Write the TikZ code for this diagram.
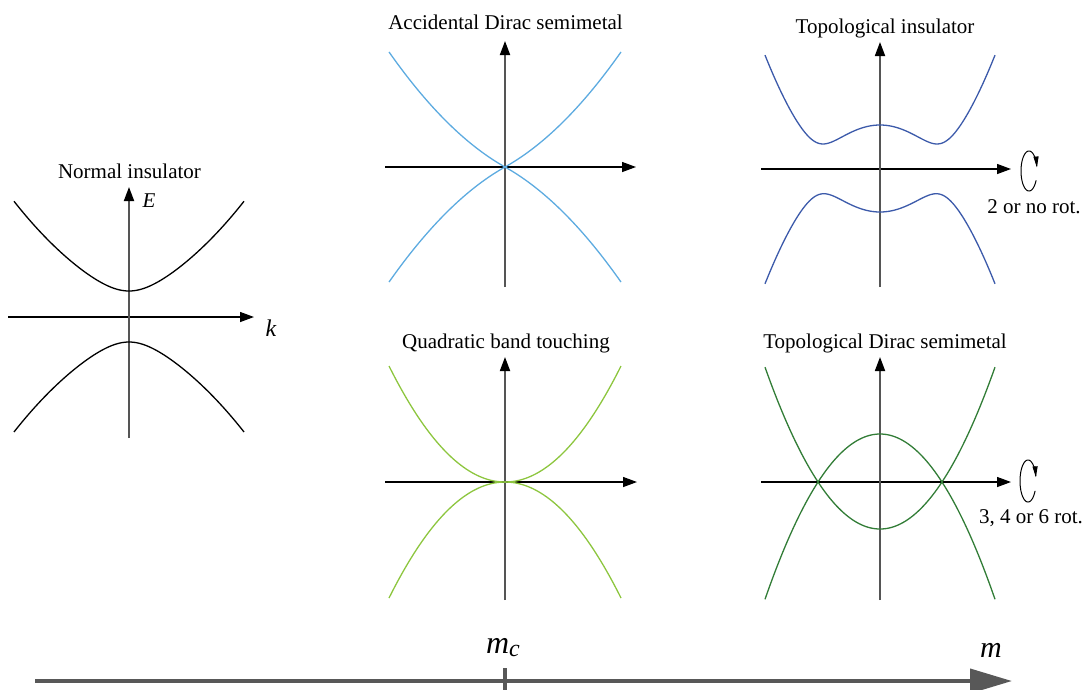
\documentclass[tikz,border=0pt]{standalone}
\usepackage{fontspec}
\setmainfont{Liberation Serif}
\usetikzlibrary{arrows.meta}
\definecolor{adblue}{RGB}{93,171,224}
\definecolor{tiblue}{RGB}{60,90,170}
\definecolor{qgreen}{RGB}{141,198,63}
\definecolor{tdgreen}{RGB}{50,125,55}
\definecolor{axgray}{RGB}{85,85,85}
\definecolor{bigaxis}{RGB}{88,88,88}
\begin{document}
\begin{tikzpicture}[x=1pt,y=-1pt,
  ttl/.style={font=\fontsize{21}{25}\selectfont, anchor=base, inner sep=0pt},
  lbl/.style={font=\fontsize{21}{25}\selectfont\itshape, anchor=base, inner sep=0pt},
  haxis/.style={line width=1.3pt, black, -{Triangle[length=14pt,width=10pt]}},
  vaxis/.style={line width=1.8pt, axgray, -{Triangle[length=14pt,width=10pt,color=black,fill=black]}},
  band/.style={line width=1.3pt},
  rotloop/.style={line width=1pt, black, -{Triangle[length=11pt,width=5pt]}}]
\useasboundingbox (0,0) rectangle (1083,689);

% ---------- Normal insulator ----------
\node[ttl] (tNI) at (129.5,178) {Normal insulator};
\coordinate (niL) at (8,317);   \coordinate (niR) at (254,317);
\coordinate (niB) at (129,438); \coordinate (niT) at (129,187);
\draw[haxis] (niL) -- (niR);
\draw[vaxis] (niB) -- (niT);
\node[lbl] (lE) at (149,207) {E};
\node[lbl, font=\fontsize{24}{28}\selectfont\itshape] (lk) at (271,336) {k};
\draw[band, black] plot[domain=-115:115, samples=101, smooth]
  ({129+\x},{317-sqrt((26+0.0049*\x*\x)^2+0.39*\x*\x)});
\draw[band, black] plot[domain=-115:115, samples=101, smooth]
  ({129+\x},{317+sqrt((25+0.0049*\x*\x)^2+0.39*\x*\x)});

% ---------- Accidental Dirac semimetal ----------
\node[ttl] (tAD) at (505.5,29) {Accidental Dirac semimetal};
\coordinate (adL) at (385,167); \coordinate (adR) at (636,167);
\coordinate (adB) at (505,287); \coordinate (adT) at (505,41);
\draw[haxis] (adL) -- (adR);
\draw[vaxis] (adB) -- (adT);
\draw[band, adblue] plot[domain=-116:116, samples=101, smooth]
  ({505+\x},{167-(0.56*abs(\x)+0.00372*\x*\x)});
\draw[band, adblue] plot[domain=-116:116, samples=101, smooth]
  ({505+\x},{167+(0.56*abs(\x)+0.00372*\x*\x)});

% ---------- Topological insulator ----------
\node[ttl] (tTI) at (885,33) {Topological insulator};
\coordinate (tiL) at (761,169); \coordinate (tiR) at (1011,169);
\coordinate (tiB) at (880,287); \coordinate (tiT) at (880,42);
\draw[haxis] (tiL) -- (tiR);
\draw[vaxis] (tiB) -- (tiT);
\draw[band, tiblue] plot[domain=-115:115, samples=121, smooth]
  ({880+\x},{169-sqrt((44-0.01114*\x*\x)^2+0.1738*\x*\x)});
\draw[band, tiblue] plot[domain=-115:115, samples=121, smooth]
  ({880+\x},{169+sqrt((43-0.01114*\x*\x)^2+0.1738*\x*\x)});
\draw[rotloop] plot[domain=0:322, samples=80, smooth]
  ({1029+8*cos(-28-\x)},{171-20*sin(-28-\x)});
\node[ttl] (rTI) at (1034,213) {2 or no rot.};

% ---------- Quadratic band touching ----------
\node[ttl] (tQB) at (506,348) {Quadratic band touching};
\coordinate (qbL) at (385,482); \coordinate (qbR) at (637,482);
\coordinate (qbB) at (505,600); \coordinate (qbT) at (505,357);
\draw[haxis] (qbL) -- (qbR);
\draw[vaxis] (qbB) -- (qbT);
\draw[band, qgreen] plot[domain=-116:116, samples=101, smooth]
  ({505+\x},{482-\x*\x/116});
\draw[band, qgreen] plot[domain=-116:116, samples=101, smooth]
  ({505+\x},{482+\x*\x/116});

% ---------- Topological Dirac semimetal ----------
\node[ttl] (tTD) at (885,348) {Topological Dirac semimetal};
\coordinate (tdL) at (761,482); \coordinate (tdR) at (1011,482);
\coordinate (tdB) at (880,600); \coordinate (tdT) at (880,357);
\draw[haxis] (tdL) -- (tdR);
\draw[vaxis] (tdB) -- (tdT);
\draw[band, tdgreen] plot[domain=-115:115, samples=101, smooth]
  ({880+\x},{482-(-47+0.01223*\x*\x)});
\draw[band, tdgreen] plot[domain=-115:115, samples=101, smooth]
  ({880+\x},{482-(48-0.0125*\x*\x)});
\draw[rotloop] plot[domain=0:322, samples=80, smooth]
  ({1028+8*cos(-28-\x)},{481-21*sin(-28-\x)});
\node[ttl] (rTD) at (1031,523) {3, 4 or 6 rot.};

% ---------- m axis ----------
\coordinate (mL) at (35,681); \coordinate (mR) at (1012,681);
\coordinate (mcT) at (505,668); \coordinate (mcB) at (505,692);
\draw[line width=4pt, bigaxis, -{Triangle[length=42pt,width=24pt]}] (mL) -- (mR);
\draw[line width=4pt, bigaxis] (mcT) -- (mcB);
\node[anchor=base, inner sep=0pt, font=\fontsize{32}{36}\selectfont\itshape] (lmc) at (503,653)
  {m\raisebox{-0.22ex}{\fontsize{24}{24}\selectfont c}};
\node[anchor=base, inner sep=0pt, font=\fontsize{30}{34}\selectfont\itshape] (lm) at (991,657) {m};
\end{tikzpicture}
\end{document}
